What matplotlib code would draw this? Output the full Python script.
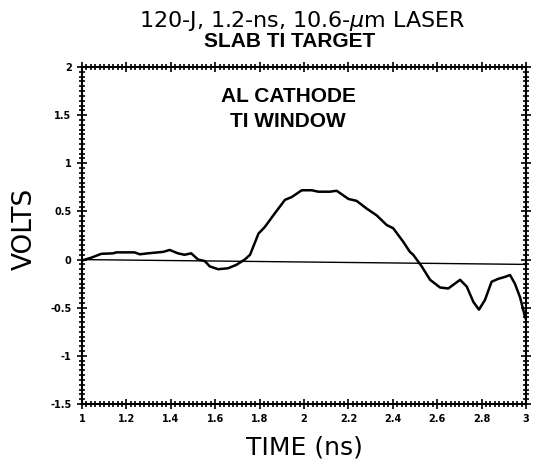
import numpy as np
import matplotlib.pyplot as plt
from matplotlib.ticker import MultipleLocator

# signal
time_ns = [1.0, 1.042, 1.087, 1.14, 1.155, 1.237, 1.26, 1.297, 1.365, 1.395, 1.432,
           1.462, 1.492, 1.523, 1.553, 1.575, 1.613, 1.658, 1.695, 1.733, 1.757,
           1.795, 1.824, 1.862, 1.914, 1.945, 1.99, 2.035, 2.065, 2.117, 2.147,
           2.2, 2.237, 2.282, 2.327, 2.372, 2.402, 2.447, 2.477, 2.492, 2.53,
           2.568, 2.613, 2.65, 2.703, 2.733, 2.763, 2.788, 2.815, 2.845, 2.875,
           2.905, 2.928, 2.95, 2.973, 2.995, 3.0]
volts = [-0.01, 0.02, 0.06, 0.065, 0.075, 0.075, 0.055, 0.065, 0.08, 0.10, 0.065,
         0.05, 0.065, 0.0, -0.015, -0.07, -0.10, -0.09, -0.055, 0.0, 0.05,
         0.27, 0.34, 0.46, 0.62, 0.65, 0.72, 0.72, 0.705, 0.705, 0.715,
         0.63, 0.61, 0.53, 0.46, 0.36, 0.325, 0.185, 0.08, 0.05, -0.07,
         -0.21, -0.29, -0.30, -0.21, -0.28, -0.44, -0.52, -0.42, -0.23, -0.20,
         -0.18, -0.16, -0.25, -0.39, -0.59, -0.62]

# baseline drawn across the plot
base_t = [1.0, 3.0]
base_v = [0.0, -0.05]

x_ticks = [1, 1.2, 1.4, 1.6, 1.8, 2, 2.2, 2.4, 2.6, 2.8, 3]
x_labels = ['1', '1.2', '1.4', '1.6', '1.8', '2', '2.2', '2.4', '2.6', '2.8', '3']
y_ticks = [-1.5, -1, -0.5, 0, 0.5, 1, 1.5, 2]
y_labels = ['-1.5', '-1', '-0.5', '0', '0.5', '1', '1.5', '2']

fig = plt.figure(figsize=(5.38, 4.70), dpi=100)
ax = fig.add_axes([0.1524, 0.1404, 0.8253, 0.717])

ax.plot(time_ns, volts, color='black', lw=1.8)
ax.plot(base_t, base_v, color='black', lw=1.0)

ax.set_xlim(1, 3)
ax.set_ylim(-1.5, 2)
ax.set_xticks(x_ticks)
ax.set_xticklabels(x_labels, fontsize=7, fontweight='bold')
ax.set_yticks(y_ticks)
ax.set_yticklabels(y_labels, fontsize=7, fontweight='bold')
ax.xaxis.set_minor_locator(MultipleLocator(0.02))
ax.yaxis.set_minor_locator(MultipleLocator(0.05))
ax.tick_params(which='both', direction='inout', top=True, right=True, width=1.2)
ax.tick_params(which='major', length=7, pad=4)
ax.tick_params(which='minor', length=4)
for s in ax.spines.values():
    s.set_linewidth(1.5)

ax.set_xlabel('TIME (ns)', fontsize=18, labelpad=8)
ax.set_ylabel('VOLTS', fontsize=19)
ax.yaxis.set_label_coords(-0.10, 0.52)

fig.text(0.561, 0.943, '120-J, 1.2-ns, 10.6-$\\mu$m LASER', ha='center', va='baseline', fontsize=16)
fig.text(0.539, 0.900, 'SLAB TI TARGET', ha='center', va='baseline', fontsize=15,
         fontweight='bold', family='Liberation Sans')
ax.text(0.464, 0.896, 'AL CATHODE', transform=ax.transAxes, ha='center', va='baseline',
        fontsize=15, fontweight='bold', family='Liberation Sans')
ax.text(0.464, 0.822, 'TI WINDOW', transform=ax.transAxes, ha='center', va='baseline',
        fontsize=15, fontweight='bold', family='Liberation Sans')

fig.savefig('out.png', dpi=100)
